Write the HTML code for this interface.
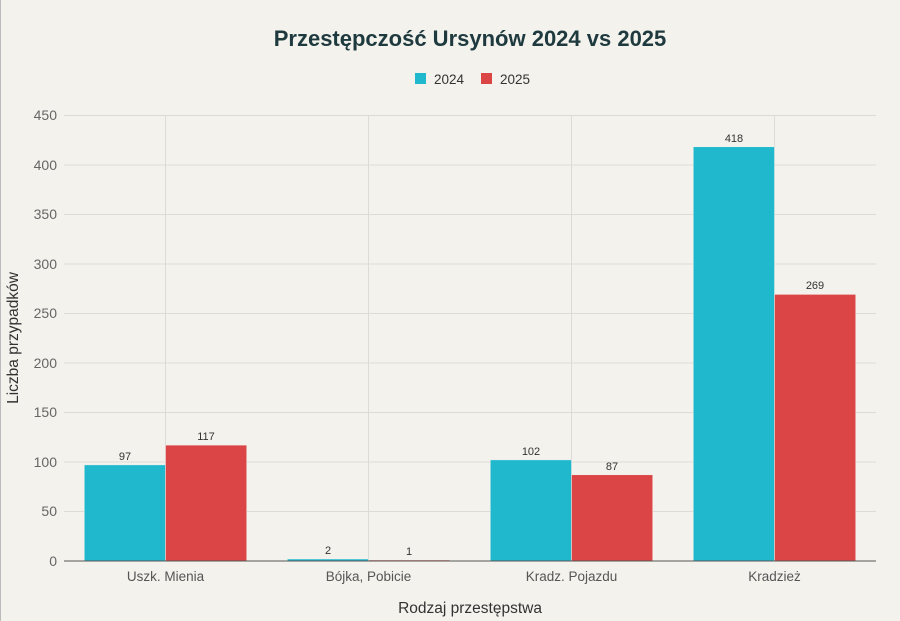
<!DOCTYPE html>
<html><head><meta charset="utf-8"><style>
body{margin:0;background:#f3f2ed;}
svg{display:block;font-family:"Liberation Sans",sans-serif;}
</style></head><body>
<svg width="900" height="621" viewBox="0 0 900 621">
<rect width="900" height="621" fill="#f3f2ed"/>
<line x1="0.5" y1="0" x2="0.5" y2="621" stroke="#bbb" stroke-width="1"/>
<text x="470" y="46" text-anchor="middle" font-size="22" font-weight="bold" fill="#1e3a3e">Przestępczość Ursynów 2024 vs 2025</text>
<rect x="415" y="73" width="11" height="11" fill="#1fb8cd"/>
<text x="434" y="84" font-size="13.5" fill="#333">2024</text>
<rect x="481" y="73" width="11" height="11" fill="#db4545"/>
<text x="500" y="84" font-size="13.5" fill="#333">2025</text>
<g stroke="#dcdcd6" stroke-width="1">
<line x1="64" y1="115.5" x2="876" y2="115.5"/>
<line x1="64" y1="165" x2="876" y2="165"/>
<line x1="64" y1="214.5" x2="876" y2="214.5"/>
<line x1="64" y1="264" x2="876" y2="264"/>
<line x1="64" y1="313.5" x2="876" y2="313.5"/>
<line x1="64" y1="363" x2="876" y2="363"/>
<line x1="64" y1="412.5" x2="876" y2="412.5"/>
<line x1="64" y1="462" x2="876" y2="462"/>
<line x1="64" y1="511.5" x2="876" y2="511.5"/>
<line x1="165.5" y1="115" x2="165.5" y2="561"/>
<line x1="368.5" y1="115" x2="368.5" y2="561"/>
<line x1="571.5" y1="115" x2="571.5" y2="561"/>
<line x1="774.5" y1="115" x2="774.5" y2="561"/>
</g>
<g font-size="14" fill="#666" text-anchor="end">
<text x="57" y="120">450</text><text x="57" y="170">400</text><text x="57" y="219">350</text>
<text x="57" y="269">300</text><text x="57" y="318">250</text><text x="57" y="368">200</text>
<text x="57" y="417">150</text><text x="57" y="467">100</text><text x="57" y="516">50</text>
<text x="57" y="566">0</text>
</g>
<g stroke="#f3f2ed" stroke-width="0.5">
<rect x="84.3" y="464.9" width="81.2" height="96.1" fill="#1fb8cd"/>
<rect x="165.5" y="445.1" width="81.2" height="115.9" fill="#db4545"/>
<rect x="287.3" y="559" width="81.2" height="2" fill="#1fb8cd"/>
<rect x="368.5" y="560" width="81.2" height="1" fill="#db4545"/>
<rect x="490.3" y="459.9" width="81.2" height="101.1" fill="#1fb8cd"/>
<rect x="571.5" y="474.8" width="81.2" height="86.2" fill="#db4545"/>
<rect x="693.3" y="146.8" width="81.2" height="414.2" fill="#1fb8cd"/>
<rect x="774.5" y="294.4" width="81.2" height="266.6" fill="#db4545"/>
</g>
<line x1="64" y1="561" x2="876" y2="561" stroke="#555" stroke-width="1"/>
<g font-size="11" fill="#333" text-anchor="middle">
<text x="125" y="460">97</text><text x="206" y="440">117</text>
<text x="328" y="554">2</text><text x="409" y="555">1</text>
<text x="531" y="455">102</text><text x="612" y="470">87</text>
<text x="734" y="142">418</text><text x="815" y="289">269</text>
</g>
<g font-size="13.5" fill="#555" text-anchor="middle">
<text x="165.5" y="581">Uszk. Mienia</text>
<text x="368.5" y="581">Bójka, Pobicie</text>
<text x="571.5" y="581">Kradz. Pojazdu</text>
<text x="774.5" y="581">Kradzież</text>
</g>
<text x="470" y="613" text-anchor="middle" font-size="15.5" fill="#333">Rodzaj przestępstwa</text>
<text transform="translate(18,338) rotate(-90)" text-anchor="middle" font-size="15.5" fill="#333">Liczba przypadków</text>
</svg>
</body></html>
